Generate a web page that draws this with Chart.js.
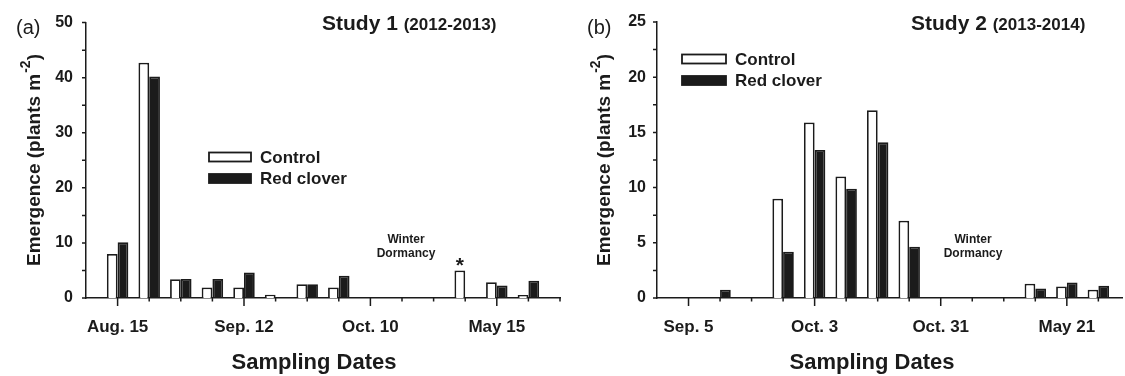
<!DOCTYPE html>
<html>
<head>
<meta charset="utf-8">
<script src="https://cdn.jsdelivr.net/npm/chart.js@4.4.1/dist/chart.umd.min.js"></script>
<style>
  html, body { margin: 0; padding: 0; background: #fff; }
  #wrap { position: relative; width: 1125px; height: 376px; }
  .panel { position: absolute; top: 0; height: 376px; }
</style>
</head>
<body>
<div id="wrap">
  <div class="panel" style="left:0;width:562px"><canvas id="c1" width="562" height="376"></canvas></div>
  <div class="panel" style="left:562px;width:563px"><canvas id="c2" width="563" height="376"></canvas></div>
</div>
<script>
const FONT = '"Liberation Sans", Arial, Helvetica, sans-serif';
const INK = '#1b1b1b';

// Study 1 (2012-2013), one slot per weekly sampling, slot 0 = Aug. 15
const dates1 = ['Aug. 15', '', '', '', 'Sep. 12', '', '', '', 'Oct. 10', '', '', '', 'May 15', '', ''];
const control1 = [8.0, 42.7, 3.4, 1.9, 1.9, 0.6, 2.5, 1.9, null, null, null, 5.0, 2.85, 0.55, null];
const clover1 = [10.1, 40.2, 3.45, 3.45, 4.65, null, 2.5, 4.05, null, null, null, null, 2.25, 3.15, null];
const starred1 = [11];

// Study 2 (2013-2014), slot 0 = Sep. 5
const dates2 = ['Sep. 5', '', '', '', 'Oct. 3', '', '', '', 'Oct. 31', '', '', '', 'May 21', ''];
const control2 = [null, null, null, 9.0, 15.9, 11.0, 17.0, 7.0, null, null, null, 1.3, 1.05, 0.75];
const clover2 = [null, 0.75, null, 4.2, 13.4, 9.9, 14.1, 4.65, null, null, null, 0.87, 1.4, 1.1];
const starred2 = [];

const decor = {
  id: 'decor',
  afterDraw(chart, args, o) {
    const { ctx, chartArea: a, scales: { x, y } } = chart;
    ctx.save();

    // outward tick marks
    ctx.strokeStyle = INK;
    ctx.lineWidth = 1.5;
    ctx.beginPath();
    o.labels.forEach((lab, i) => {
      const px = x.getPixelForValue(i);
      ctx.moveTo(px, a.bottom);
      ctx.lineTo(px, a.bottom + (lab ? 8 : 3.5));
    });
    for (let v = 0; v <= y.max + 0.001; v += o.minor) {
      const py = y.getPixelForValue(v);
      ctx.moveTo(a.left, py);
      ctx.lineTo(a.left - 4, py);
    }
    ctx.stroke();

    ctx.fillStyle = INK;
    ctx.textBaseline = 'alphabetic';

    // panel tag
    ctx.font = '400 20px ' + FONT;
    ctx.textAlign = 'left';
    ctx.fillText(o.tag, o.tagX, 34);

    // title
    ctx.font = 'bold 21px ' + FONT;
    ctx.fillText(o.title, o.titleX, 30);
    const tw = ctx.measureText(o.title + ' ').width;
    ctx.font = 'bold 17px ' + FONT;
    ctx.fillText(o.years, o.titleX + tw, 30);

    // y title with superscript
    ctx.save();
    ctx.translate(o.yTitleX, 160);
    ctx.rotate(-Math.PI / 2);
    const big = 'bold 19px ' + FONT, small = 'bold 14px ' + FONT;
    ctx.font = big;
    const w1 = ctx.measureText('Emergence (plants m').width;
    const w3 = ctx.measureText(')').width;
    ctx.font = small;
    const w2 = ctx.measureText('-2').width + 1;
    const sx = -(w1 + w2 + w3) / 2;
    ctx.font = big;
    ctx.fillText('Emergence (plants m', sx, 7);
    ctx.font = small;
    ctx.fillText('-2', sx + w1 + 1, -3);
    ctx.font = big;
    ctx.fillText(')', sx + w1 + w2, 7);
    ctx.restore();

    // x title
    ctx.font = 'bold 22px ' + FONT;
    ctx.textAlign = 'center';
    ctx.textBaseline = 'middle';
    ctx.fillText('Sampling Dates', o.xTitleX, 363);

    // winter dormancy note
    ctx.font = 'bold 12px ' + FONT;
    ctx.fillText('Winter', o.noteX, 240);
    ctx.fillText('Dormancy', o.noteX, 254);

    // significance star
    const meta = chart.getDatasetMeta(0);
    ctx.font = 'bold 21px ' + FONT;
    ctx.textBaseline = 'alphabetic';
    o.stars.forEach(i => {
      const el = meta.data[i];
      ctx.fillText('*', el.x, el.y + 2);
    });

    // legend
    ctx.textAlign = 'left';
    ctx.textBaseline = 'middle';
    ctx.font = 'bold 17px ' + FONT;
    chart.data.datasets.forEach((ds, i) => {
      const cy = o.legY + i * 21.5;
      ctx.fillStyle = ds.backgroundColor;
      ctx.fillRect(o.legX, cy - 4.5, o.legW, 9);
      ctx.strokeStyle = ds.borderColor;
      ctx.lineWidth = 1.8;
      ctx.strokeRect(o.legX, cy - 4.5, o.legW, 9);
      ctx.fillStyle = INK;
      ctx.fillText(ds.label, o.legX + o.legW + 9, cy + 1);
    });

    ctx.restore();
  }
};

function makeChart(id, labels, ctrl, clover, cfg) {
  return new Chart(document.getElementById(id), {
    type: 'bar',
    data: {
      datasets: [
        {
          label: 'Control',
          data: ctrl.map((v, i) => ({ x: i, y: v })),
          backgroundColor: '#ffffff',
          borderColor: INK,
          borderWidth: 1.8
        },
        {
          label: 'Red clover',
          data: clover.map((v, i) => ({ x: i, y: v })),
          backgroundColor: INK,
          borderColor: INK,
          borderWidth: 1.8
        }
      ]
    },
    options: {
      responsive: false,
      animation: false,
      devicePixelRatio: 1,
      categoryPercentage: 0.68,
      barPercentage: 1.0,
      layout: { padding: { left: 0, right: cfg.padR, top: 22, bottom: 0 } },
      scales: {
        x: {
          type: 'linear',
          offset: false,
          min: -1,
          max: cfg.xMax,
          grid: { display: false, drawTicks: false },
          border: { display: true, color: INK, width: 1.5 },
          ticks: {
            stepSize: 1,
            autoSkip: false,
            maxRotation: 0,
            padding: 19,
            color: INK,
            font: { family: FONT, size: 17, weight: 'bold' },
            callback: v => (Number.isInteger(v) && v >= 0 ? labels[v] || '' : '')
          },
          afterFit: s => {
            s.height = 78;
            s.paddingLeft = 0;
            s.paddingRight = 0;
          }
        },
        y: {
          min: 0,
          max: cfg.yMax,
          grid: { display: false, drawTicks: false },
          border: { display: true, color: INK, width: 1.5 },
          ticks: {
            stepSize: cfg.yStep,
            padding: cfg.yPad,
            color: INK,
            font: { family: FONT, size: 16, weight: 'bold' }
          },
          afterFit: s => { s.width = cfg.yWidth; }
        }
      },
      plugins: {
        legend: { display: false },
        tooltip: { enabled: false },
        decor: Object.assign({ labels }, cfg.decor)
      }
    },
    plugins: [decor]
  });
}

makeChart('c1', dates1, control1, clover1, {
  xMax: 14, yMax: 50, yStep: 10, yPad: 13, yWidth: 86, padR: 2,
  decor: {
    minor: 5, tag: '(a)', tagX: 16, title: 'Study 1', years: '(2012-2013)', titleX: 322,
    yTitleX: 33, xTitleX: 314, noteX: 406, stars: starred1,
    legX: 209, legY: 157, legW: 42
  }
});

makeChart('c2', dates2, control2, clover2, {
  xMax: 13.75, yMax: 25, yStep: 5, yPad: 11, yWidth: 95, padR: 3,
  decor: {
    minor: 2.5, tag: '(b)', tagX: 25, title: 'Study 2', years: '(2013-2014)', titleX: 349,
    yTitleX: 41, xTitleX: 310, noteX: 411, stars: starred2,
    legX: 120, legY: 59, legW: 44
  }
});
</script>
</body>
</html>
